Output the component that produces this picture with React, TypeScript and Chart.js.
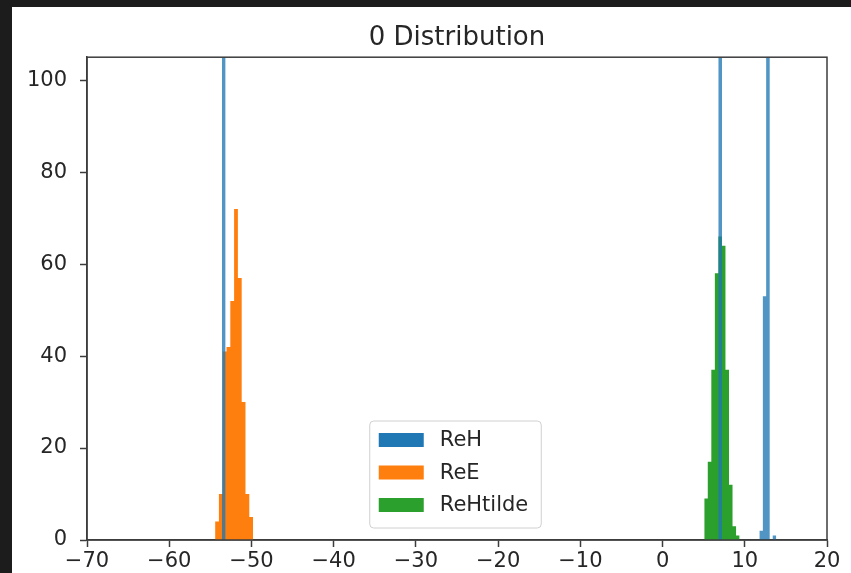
import React, { useEffect, useRef } from 'react';
import { Chart, registerables } from 'chart.js';

Chart.register(...registerables);

const titleText = '0 Distribution';
const seriesNames = ['ReH', 'ReE', 'ReHtilde'];
const seriesColors = ['#1f77b4', '#ff7f0e', '#2ca02c'];
const seriesFills = ['rgba(31,119,180,0.78)', '#ff7f0e', '#2ca02c'];

// ReH: isolated bins given by their left edges (all same width)
const reHBinLeft = [-53.6, 6.8, 11.8, 12.2, 12.6, 13.4];
const reHCounts = [150, 150, 2, 53, 150, 1];
const reHBinWidth = 0.43;

// ReE: consecutive bins
const reEStart = -54.42;
const reEBinWidth = 0.462;
const reECounts = [4, 10, 41, 42, 52, 72, 57, 30, 10, 5];

// ReHtilde: consecutive bins
const reHtildeStart = 5.07;
const reHtildeBinWidth = 0.43;
const reHtildeCounts = [9, 17, 37, 58, 66, 64, 37, 12, 3, 1];

const xMin = -70;
const xMax = 20;
const xStep = 10;
const yMin = 0;
const yMax = 105;
const yStep = 20;

type Pt = { x: number; y: number };

function binsToSteps(lefts: number[], width: number, counts: number[]): Pt[] {
  const pts: Pt[] = [];
  for (let i = 0; i < lefts.length; i++) {
    pts.push({ x: lefts[i], y: counts[i] });
    pts.push({ x: lefts[i] + width, y: 0 });
  }
  return pts;
}

function consecutiveLefts(start: number, width: number, n: number): number[] {
  const out: number[] = [];
  for (let i = 0; i < n; i++) out.push(start + i * width);
  return out;
}

const frameAndLegend = {
  id: 'frameAndLegend',
  afterDraw(chart: any) {
    const { ctx, chartArea } = chart;
    ctx.save();
    // spines
    ctx.strokeStyle = '#3c3c3c';
    ctx.lineWidth = 1.5;
    ctx.strokeRect(chartArea.left, chartArea.top, chartArea.right - chartArea.left, chartArea.bottom - chartArea.top);

    // legend (matplotlib style, lower center)
    const fontSize = 21;
    ctx.font = `${fontSize}px "DejaVu Sans"`;
    const textW = Math.max(...seriesNames.map((n) => ctx.measureText(n).width));
    const padX = 9;
    const handleW = 45;
    const handleH = 14;
    const gap = 16;
    const rowH = 32.5;
    const padTop = 19;
    const padBottom = 23;
    const boxW = padX + handleW + gap + textW + padX + 4;
    const boxH = padTop + rowH * (seriesNames.length - 1) + padBottom;
    const cx = (chartArea.left + chartArea.right) / 2 - 1.5;
    const bx = cx - boxW / 2;
    const by = chartArea.bottom - 12 - boxH;
    const r = 4;
    ctx.beginPath();
    ctx.moveTo(bx + r, by);
    ctx.lineTo(bx + boxW - r, by);
    ctx.arcTo(bx + boxW, by, bx + boxW, by + r, r);
    ctx.lineTo(bx + boxW, by + boxH - r);
    ctx.arcTo(bx + boxW, by + boxH, bx + boxW - r, by + boxH, r);
    ctx.lineTo(bx + r, by + boxH);
    ctx.arcTo(bx, by + boxH, bx, by + boxH - r, r);
    ctx.lineTo(bx, by + r);
    ctx.arcTo(bx, by, bx + r, by, r);
    ctx.closePath();
    ctx.fillStyle = 'rgba(255,255,255,0.8)';
    ctx.fill();
    ctx.strokeStyle = '#d0d0d0';
    ctx.lineWidth = 1;
    ctx.stroke();

    ctx.textBaseline = 'middle';
    ctx.textAlign = 'left';
    seriesNames.forEach((name, i) => {
      const cy = by + padTop + i * rowH;
      ctx.fillStyle = seriesColors[i];
      ctx.fillRect(bx + padX, cy - handleH / 2, handleW, handleH);
      ctx.fillStyle = '#262626';
      ctx.fillText(name, bx + padX + handleW + gap, cy + 1);
    });
    ctx.restore();
  },
};

export default function App() {
  const ref = useRef<HTMLCanvasElement | null>(null);

  useEffect(() => {
    if (!ref.current) return;
    const reHData = binsToSteps(reHBinLeft, reHBinWidth, reHCounts);
    const reEData = binsToSteps(
      consecutiveLefts(reEStart, reEBinWidth, reECounts.length),
      reEBinWidth,
      reECounts
    );
    const reHtildeData = binsToSteps(
      consecutiveLefts(reHtildeStart, reHtildeBinWidth, reHtildeCounts.length),
      reHtildeBinWidth,
      reHtildeCounts
    );
    const datasets = [reHData, reEData, reHtildeData].map((data, i) => ({
      label: seriesNames[i],
      data,
      stepped: true,
      fill: 'origin',
      backgroundColor: seriesFills[i],
      borderColor: 'rgba(0,0,0,0)',
      borderWidth: 0,
      pointRadius: 0,
      pointHoverRadius: 0,
    }));

    const tickFont = { family: 'DejaVu Sans', size: 21 };
    const chart = new Chart(ref.current, {
      type: 'line',
      data: { datasets: datasets as any },
      plugins: [frameAndLegend],
      options: {
        animation: false,
        responsive: false,
        devicePixelRatio: 1,
        layout: { padding: { left: 0, right: 24, top: 0, bottom: 0 } },
        plugins: {
          legend: { display: false },
          tooltip: { enabled: false },
          title: {
            display: true,
            fullSize: false,
            text: titleText,
            color: '#262626',
            font: { family: 'DejaVu Sans', size: 26, weight: 'normal' },
            padding: { top: 16, bottom: 3 },
          },
        },
        scales: {
          x: {
            type: 'linear',
            min: xMin,
            max: xMax,
            afterFit: (s: any) => {
              s.height = 33;
            },
            ticks: {
              stepSize: xStep,
              autoSkip: false,
              maxRotation: 0,
              padding: 2,
              color: '#262626',
              font: tickFont,
              callback: (v: any) => String(v).replace('-', '\u2212'),
            },
            grid: {
              display: true,
              drawOnChartArea: false,
              drawTicks: true,
              tickLength: 7,
              tickWidth: 1.5,
              tickColor: '#3c3c3c',
            },
            border: { display: true, color: '#3c3c3c', width: 1.5 },
          },
          y: {
            type: 'linear',
            min: yMin,
            max: yMax,
            afterFit: (s: any) => {
              s.width = 75;
            },
            ticks: {
              stepSize: yStep,
              includeBounds: false,
              padding: 13,
              color: '#262626',
              font: tickFont,
            },
            grid: {
              display: true,
              drawOnChartArea: false,
              drawTicks: true,
              tickLength: 7,
              tickWidth: 1.5,
              tickColor: '#3c3c3c',
            },
            border: { display: true, color: '#3c3c3c', width: 1.5 },
          },
        },
      },
    });
    return () => chart.destroy();
  }, []);

  return (
    <div style={{ position: 'fixed', inset: 0, background: '#1c1c1c' }}>
      <div
        style={{
          position: 'absolute',
          left: 12,
          top: 7,
          right: 0,
          bottom: 0,
          background: '#ffffff',
        }}
      >
        <canvas ref={ref} width={839} height={566} style={{ display: 'block' }} />
      </div>
    </div>
  );
}
